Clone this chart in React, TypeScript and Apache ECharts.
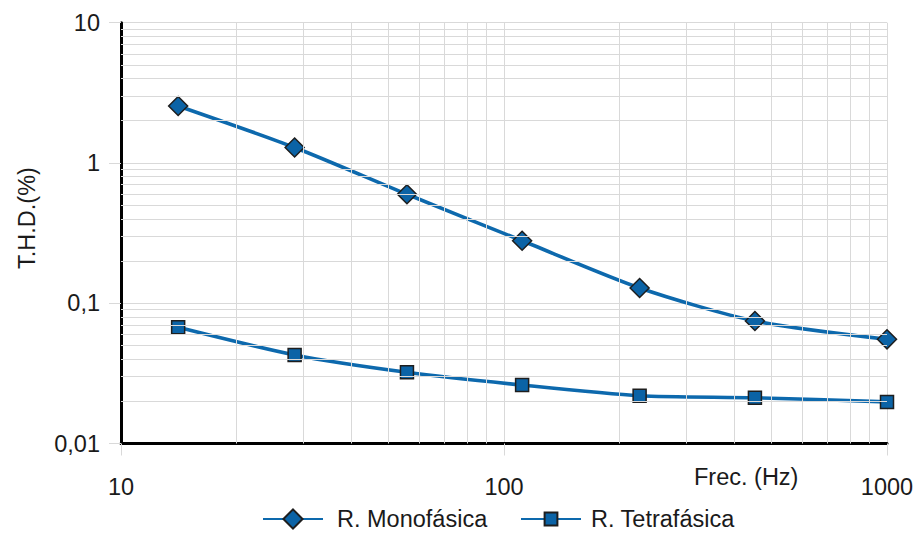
import React, { useEffect, useRef } from "react";
import * as echarts from "echarts";

const freqs = [14.1, 28.4, 55.8, 111.5, 226, 452, 1000];
const monoValues = [2.55, 1.29, 0.598, 0.279, 0.1285, 0.0747, 0.0553];
const tetraValues = [0.0674, 0.0428, 0.0322, 0.0261, 0.0219, 0.0212, 0.0198];
const seriesNames = ["R. Monofásica", "R. Tetrafásica"];
const xDecades = [10, 100];
const yDecades = [0.01, 0.1, 1];

const FONT = "'Liberation Sans', Arial, sans-serif";
const LINE = "#0d69ad";
const FILL = "#0b63a6";
const GRID = "#d9d9d9";
const TXT = "#1a1a1a";

const minorOf = (decades: number[]) => {
  const out: number[] = [];
  decades.forEach((d) => {
    for (let k = 2; k <= 9; k++) out.push(+(d * k).toPrecision(6));
  });
  return out;
};

export default function App() {
  const ref = useRef<HTMLDivElement>(null);
  useEffect(() => {
    if (!ref.current) return;
    const chart = echarts.init(ref.current, undefined, { renderer: "svg" });
    const fmt = (v: number) => String(v).replace(".", ",");
    chart.setOption({
      animation: false,
      backgroundColor: "#ffffff",
      textStyle: { fontFamily: FONT },
      grid: { left: 121, right: 30, top: 22.7, bottom: 90.5 },
      xAxis: {
        type: "log",
        logBase: 10,
        min: 10,
        max: 1000,
        axisLine: { show: true, lineStyle: { color: "#000", width: 3 } },
        axisTick: { show: true, length: 12, lineStyle: { color: GRID, width: 1 } },
        splitLine: { show: true, lineStyle: { color: GRID, width: 1 } },
        minorTick: { show: false },
        axisLabel: { margin: 31, fontSize: 23.5, color: TXT, fontFamily: FONT, formatter: fmt },
      },
      yAxis: {
        type: "log",
        logBase: 10,
        min: 0.01,
        max: 10,
        axisLine: { show: true, onZero: false, lineStyle: { color: "#000", width: 3 } },
        axisTick: { show: true, length: 12, lineStyle: { color: GRID, width: 1 } },
        splitLine: { show: true, lineStyle: { color: GRID, width: 1 } },
        axisLabel: { margin: 21, fontSize: 23.5, color: TXT, fontFamily: FONT, formatter: fmt },
      },
      legend: [
        {
          data: [seriesNames[0]],
          left: 262,
          top: 507,
          padding: 0,
          itemWidth: 60,
          itemHeight: 24,
          textStyle: { fontSize: 23.5, color: TXT, fontFamily: FONT, padding: [0, 0, 0, 9] },
        },
        {
          data: [seriesNames[1]],
          left: 520,
          top: 507,
          padding: 0,
          itemWidth: 60,
          itemHeight: 16,
          textStyle: { fontSize: 23.5, color: TXT, fontFamily: FONT, padding: [0, 0, 0, 5] },
        },
      ],
      graphic: [
        {
          type: "text",
          x: 27,
          y: 218,
          rotation: Math.PI / 2,
          style: {
            text: "T.H.D.(%)",
            fontSize: 23.5,
            fontFamily: FONT,
            fill: TXT,
            align: "center",
            verticalAlign: "middle",
          },
        },
        {
          type: "text",
          x: 694,
          y: 477,
          style: {
            text: "Frec. (Hz)",
            fontSize: 23.5,
            fontFamily: FONT,
            fill: TXT,
            align: "left",
            verticalAlign: "middle",
          },
        },
      ],
      series: [
        {
          type: "line",
          name: "minor-grid",
          data: [],
          z: 1,
          silent: true,
          markLine: {
            silent: true,
            animation: false,
            symbol: ["none", "none"],
            label: { show: false },
            lineStyle: { color: GRID, width: 1, type: "solid" },
            data: [
              ...minorOf(xDecades).map((v) => ({ xAxis: v })),
              ...minorOf(yDecades).map((v) => ({ yAxis: v })),
            ],
          },
        },
        {
          type: "line",
          name: seriesNames[0],
          data: freqs.map((f, i) => [f, monoValues[i]]),
          z: 3,
          smooth: 0.25,
          symbol: "diamond",
          symbolSize: 19,
          lineStyle: { color: LINE, width: 3.6 },
          itemStyle: { color: FILL, borderColor: "#1e1e1e", borderWidth: 1.5 },
        },
        {
          type: "line",
          name: seriesNames[1],
          data: freqs.map((f, i) => [f, tetraValues[i]]),
          z: 3,
          smooth: 0.25,
          symbol: "rect",
          symbolSize: 13,
          lineStyle: { color: LINE, width: 3.6 },
          itemStyle: { color: FILL, borderColor: "#1e1e1e", borderWidth: 1.5 },
        },
      ],
    });
    return () => chart.dispose();
  }, []);
  return <div ref={ref} style={{ width: 917, height: 534, position: "absolute", left: 0, top: 0 }} />;
}
